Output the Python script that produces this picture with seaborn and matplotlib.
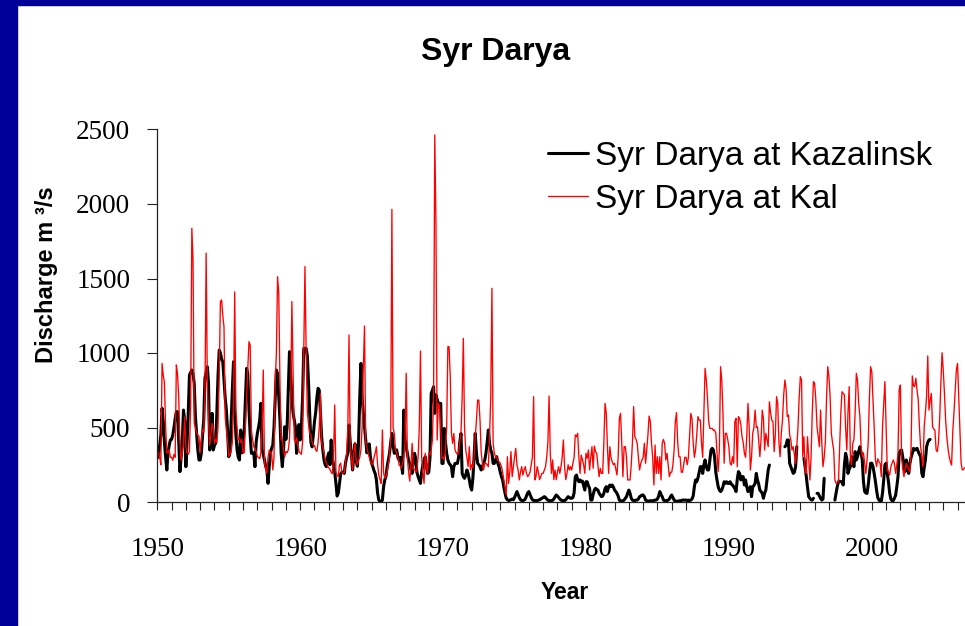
import numpy as np
import pandas as pd
import seaborn as sns
import matplotlib.pyplot as plt
from matplotlib.lines import Line2D
from matplotlib.patches import Rectangle

nan = np.nan

# Monthly discharge (m3/s), one row per year
# Syr Darya at Kazalinsk (black line), gaps in the 1990s record
kaz_1950s = [
    360, 300, 380, 450, 629, 540, 400, 300, 215, 330, 380, 416,    # 1950
    420, 450, 500, 560, 606, 606, 400, 204, 300, 416, 617, 540,    # 1951
    237, 400, 600, 852, 870, 886, 860, 796, 573, 460, 350, 282,    # 1952
    282, 330, 450, 550, 830, 870, 908, 800, 349, 450, 595, 349,    # 1953
    380, 394, 600, 850, 1020, 1000, 960, 942, 819, 700, 617, 483,  # 1954
    304, 330, 550, 750, 942, 617, 450, 349, 300, 282, 483, 330,    # 1955
    420, 483, 700, 897, 860, 617, 450, 327, 330, 330, 237, 400,    # 1956
    460, 500, 550, 662, 350, 320, 282, 240, 215, 125, 237, 330,    # 1957
    360, 382, 500, 700, 886, 860, 700, 550, 327, 237, 350, 505,    # 1958
    420, 500, 750, 1009, 860, 700, 600, 550, 505, 327, 450, 520,   # 1959
]
kaz_1960s = [
    416, 500, 700, 1031, 1031, 1031, 980, 800, 584, 400, 370, 450,  # 1960
    540, 600, 700, 763, 750, 600, 438, 350, 282, 250, 237, 300,     # 1961
    330, 250, 416, 300, 250, 200, 125, 40, 60, 125, 190, 200,       # 1962
    200, 192, 260, 300, 327, 517, 400, 327, 215, 300, 390, 280,     # 1963
    240, 400, 700, 930, 700, 595, 505, 420, 330, 350, 390, 300,     # 1964
    260, 237, 210, 190, 148, 60, 13, 5, 0, 13, 100, 148,            # 1965
    170, 237, 280, 327, 400, 460, 382, 327, 330, 350, 300, 282,     # 1966
    300, 250, 192, 617, 416, 370, 327, 280, 259, 215, 192, 280,     # 1967
    327, 293, 200, 170, 148, 125, 200, 250, 282, 304, 240, 192,     # 1968
    200, 300, 729, 750, 774, 595, 718, 690, 662, 662, 662, 259,     # 1969
]
kaz_1970s = [
    259, 494, 400, 327, 282, 260, 250, 237, 170, 237, 259, 259,  # 1970
    259, 300, 400, 460, 192, 170, 159, 180, 215, 192, 150, 103,  # 1971
    80, 159, 300, 460, 327, 259, 250, 237, 215, 237, 260, 282,   # 1972
    327, 400, 483, 394, 350, 327, 259, 259, 280, 304, 259, 237,  # 1973
    200, 170, 148, 100, 60, 25, 15, 10, 12, 15, 20, 15,          # 1974
    30, 50, 70, 50, 30, 15, 10, 10, 12, 20, 40, 60,              # 1975
    70, 50, 30, 15, 10, 10, 9, 10, 12, 15, 20, 25,               # 1976
    30, 36, 30, 20, 12, 10, 9, 9, 12, 20, 35, 47,                # 1977
    40, 30, 20, 13, 10, 9, 9, 15, 25, 36, 30, 25,                # 1978
    25, 30, 60, 170, 181, 150, 136, 148, 136, 140, 110, 80,      # 1979
]
kaz_1980s = [
    136, 136, 110, 92, 13, 13, 50, 80, 92, 85, 80, 60,           # 1980
    47, 36, 40, 58, 90, 103, 70, 100, 114, 103, 114, 100,        # 1981
    80, 70, 58, 40, 13, 9, 5, 9, 13, 25, 36, 60,                 # 1982
    80, 58, 25, 13, 9, 9, 13, 13, 20, 36, 40, 47,                # 1983
    47, 36, 13, 9, 5, 7, 9, 7, 9, 9, 13, 13,                     # 1984
    20, 40, 70, 50, 36, 13, 9, 9, 9, 13, 20, 36,                 # 1985
    47, 30, 13, 7, 5, 5, 7, 9, 9, 13, 13, 13,                    # 1986
    13, 9, 13, 9, 13, 20, 40, 103, 148, 136, 160, 200,           # 1987
    237, 237, 192, 250, 282, 237, 215, 215, 282, 349, 360, 349,  # 1988
    300, 200, 148, 103, 80, 70, 80, 103, 136, 125, 136, 125,     # 1989
]
kaz_1990s = [
    125, 136, 120, 114, 103, 90, 70, 150, 204, 192, 148, 170,    # 1990
    170, 114, 148, 103, 70, 80, 103, 36, 103, 110, 125, 192,     # 1991
    148, 120, 80, 70, 58, 25, 60, 80, 148, 215, 248, nan,        # 1992
    nan, nan, nan, nan, nan, nan, nan, nan, nan, nan, nan, 371,  # 1993
    380, 416, 416, 260, 237, 215, 192, 200, 237, 371, nan, nan,  # 1994
    nan, nan, nan, 293, 237, 170, 100, 36, 25, 15, 13, 25,       # 1995
    nan, nan, 58, 58, 40, 25, 13, 20, 159, nan, nan, nan,        # 1996
    nan, nan, nan, nan, nan, 13, 60, 103, 136, 140, 136, 136,    # 1997
    114, 250, 327, 293, 192, 220, 237, 304, 270, 237, 338, 282,  # 1998
    304, 340, 371, 330, 282, 136, 70, 60, 58, 114, 192, 260,     # 1999
]
kaz_2000s = [
    260, 237, 192, 140, 80, 30, 13, 7, 7, 60, 148, 248,          # 2000
    260, 192, 136, 60, 20, 9, 9, 25, 45, 103, 170, 327,          # 2001
    345, 349, 300, 250, 204, 282, 230, 192, 260, 300, 327, 360,  # 2002
    349, 355, 360, 338, 320, 304, 192, 170, 230, 282, 371, 400,  # 2003
    416, 420,                                                    # 2004
]

# Syr Darya at Kal (red line)
kal_1950s = [
    340, 330, 300, 250, 930, 850, 800, 500, 330, 330, 350, 300,        # 1950
    300, 280, 320, 300, 920, 860, 700, 400, 280, 330, 400, 570,        # 1951
    370, 330, 320, 340, 650, 1837, 1624, 530, 500, 460, 450, 440,      # 1952
    330, 420, 483, 470, 700, 1670, 800, 550, 380, 450, 528, 500,       # 1953
    394, 420, 400, 500, 864, 1345, 1356, 1250, 1177, 573, 480, 416,    # 1954
    304, 320, 340, 400, 662, 1410, 617, 500, 416, 430, 400, 420,       # 1955
    327, 330, 500, 707, 900, 1076, 1054, 483, 420, 371, 360, 340,      # 1956
    304, 300, 290, 330, 500, 886, 260, 230, 192, 300, 349, 330,        # 1957
    330, 215, 300, 796, 1000, 1512, 1400, 800, 416, 420, 350, 304,     # 1958
    340, 330, 350, 420, 700, 1345, 886, 420, 400, 430, 380, 340,       # 1959
]
kal_1960s = [
    330, 320, 400, 1020, 1580, 998, 600, 520, 460, 450, 400, 380,  # 1960
    380, 350, 340, 400, 500, 729, 400, 370, 330, 282, 260, 240,    # 1961
    230, 220, 200, 190, 300, 651, 200, 180, 170, 250, 260, 200,    # 1962
    190, 200, 260, 330, 500, 1121, 350, 300, 215, 330, 400, 280,   # 1963
    250, 280, 300, 350, 500, 900, 1181, 400, 371, 330, 300, 270,   # 1964
    260, 250, 300, 330, 371, 250, 180, 150, 125, 483, 200, 160,    # 1965
    170, 200, 250, 300, 450, 1964, 500, 460, 349, 330, 300, 250,   # 1966
    240, 230, 260, 300, 400, 864, 300, 200, 140, 250, 394, 220,    # 1967
    220, 200, 215, 300, 500, 1013, 300, 200, 125, 327, 250, 192,   # 1968
    330, 320, 350, 416, 700, 2463, 1870, 416, 662, 640, 500, 293,  # 1969
]
kal_1970s = [
    300, 282, 350, 500, 1042, 1042, 841, 460, 394, 460, 350, 330,  # 1970
    320, 330, 400, 460, 700, 1098, 500, 349, 300, 237, 371, 215,   # 1971
    250, 230, 300, 438, 550, 684, 684, 550, 330, 260, 215, 260,    # 1972
    260, 250, 237, 438, 700, 1434, 394, 330, 300, 304, 280, 270,   # 1973
    260, 237, 200, 150, 100, 47, 304, 125, 200, 338, 170, 237,     # 1974
    300, 360, 250, 215, 148, 200, 237, 180, 215, 237, 192, 170,    # 1975
    180, 200, 250, 300, 707, 148, 170, 237, 200, 150, 170, 192,    # 1976
    192, 215, 237, 300, 400, 711, 327, 192, 282, 150, 215, 150,    # 1977
    200, 237, 192, 237, 300, 416, 237, 150, 192, 250, 215, 237,    # 1978
    215, 260, 300, 450, 438, 461, 304, 192, 315, 282, 250, 192,    # 1979
]
kal_1980s = [
    327, 293, 349, 215, 300, 371, 226, 376, 338, 327, 250, 170,  # 1980
    226, 192, 192, 400, 662, 600, 371, 192, 371, 300, 270, 250,  # 1981
    260, 220, 181, 300, 561, 595, 400, 170, 371, 371, 300, 148,  # 1982
    148, 148, 250, 400, 640, 438, 420, 394, 300, 215, 260, 282,  # 1983
    300, 394, 260, 350, 450, 577, 540, 394, 300, 114, 382, 192,  # 1984
    304, 192, 304, 148, 394, 420, 394, 282, 327, 250, 170, 200,  # 1985
    200, 250, 350, 539, 600, 400, 304, 304, 200, 200, 250, 300,  # 1986
    300, 250, 300, 450, 595, 560, 400, 300, 350, 450, 573, 550,  # 1987
    550, 394, 300, 600, 897, 819, 700, 539, 494, 494, 494, 480,  # 1988
    483, 461, 330, 204, 350, 908, 820, 600, 260, 461, 461, 420,  # 1989
]
kal_1990s = [
    371, 260, 248, 304, 260, 539, 561, 237, 573, 560, 520, 440,  # 1990
    400, 327, 300, 440, 662, 505, 215, 300, 461, 500, 617, 500,  # 1991
    505, 416, 304, 420, 617, 560, 349, 461, 420, 371, 673, 600,  # 1992
    550, 539, 338, 450, 707, 662, 400, 304, 461, 550, 718, 819,  # 1993
    760, 573, 584, 450, 416, 349, 371, 320, 260, 371, 500, 700,  # 1994
    841, 819, 304, 438, 204, 192, 438, 300, 148, 300, 600, 808,  # 1995
    796, 685, 505, 440, 371, 617, 400, 237, 300, 400, 700, 908,  # 1996
    841, 707, 461, 400, 349, 148, 125, 130, 136, 371, 600, 740,  # 1997
    729, 718, 500, 349, 600, 774, 304, 248, 394, 420, 600, 863,  # 1998
    819, 662, 573, 371, 304, 330, 260, 192, 282, 400, 700, 908,  # 1999
]
kal_2000s = [
    874, 685, 500, 282, 237, 290, 270, 260, 170, 505, 650, 808,   # 2000
    505, 215, 200, 181, 237, 260, 282, 260, 192, 250, 327, 756,   # 2001
    785, 300, 220, 170, 220, 260, 237, 220, 204, 371, 846, 780,   # 2002
    774, 830, 750, 685, 505, 371, 300, 237, 505, 600, 707, 980,   # 2003
    617, 680, 729, 505, 490, 483, 349, 338, 400, 560, 800, 1002,  # 2004
    886, 729, 550, 438, 360, 304, 270, 248, 472, 600, 750, 886,   # 2005
    930, 700, 472, 260, 215, 220, 230,                            # 2006
]

first_year = 1950
kaz_label = 'Syr Darya at Kazalinsk'
kal_label = 'Syr Darya at Kal'
decade_labels = [1950, 1960, 1970, 1980, 1990, 2000]
y_ticks = [0, 500, 1000, 1500, 2000, 2500]


def monthly(values, start):
    q = np.asarray(values, dtype=float)
    return pd.DataFrame({'Year': start + np.arange(len(q)) / 12, 'Discharge': q})


kaz = monthly(kaz_1950s + kaz_1960s + kaz_1970s + kaz_1980s + kaz_1990s + kaz_2000s, first_year)
kal = monthly(kal_1950s + kal_1960s + kal_1970s + kal_1980s + kal_1990s + kal_2000s, first_year)

# missing months break the Kazalinsk line into separate pieces
kaz['Segment'] = kaz['Discharge'].isna().cumsum()
kaz = kaz.dropna()

sns.set_theme(style='ticks')
plt.rcParams['font.family'] = ['Liberation Sans', 'DejaVu Sans']
plt.rcParams['text.color'] = 'black'
plt.rcParams['axes.labelcolor'] = 'black'

W, H = 965, 626
fig = plt.figure(figsize=(W / 100, H / 100), dpi=100)
fig.patch.set_facecolor('white')

# blue slide frame on the left and top
fig.add_artist(Rectangle((0, 0), 17 / W, 1, transform=fig.transFigure, color='#000099', zorder=0))
fig.add_artist(Rectangle((0, 1 - 5 / H), 1, 5 / H, transform=fig.transFigure, color='#000099', zorder=0))

x0, x1 = 157.3, 965
y0, y1 = 502, 129.5
ax = fig.add_axes([x0 / W, 1 - y0 / H, (x1 - x0) / W, (y0 - y1) / H])
ax.set_facecolor('white')

sns.lineplot(data=kaz, x='Year', y='Discharge', units='Segment', estimator=None,
             color='black', linewidth=2.2, ax=ax)
sns.lineplot(data=kal, x='Year', y='Discharge', estimator=None,
             color='red', linewidth=0.95, ax=ax)

ax.set_xlim(1950, 1950 + (x1 - x0) / 14.29)
ax.set_ylim(0, 2500)
ax.set_xlabel('')
ax.set_ylabel('')

years = np.arange(1950, 2007)
ax.set_xticks(years, [str(y) if y in decade_labels else '' for y in years])
ax.set_yticks(y_ticks, [str(v) for v in y_ticks])
ax.tick_params(axis='x', direction='out', length=6, width=0.8, pad=19.5,
               labelsize=19.5, color='#222222', labelcolor='black')
ax.tick_params(axis='y', direction='out', length=7.5, width=0.8, pad=12,
               labelsize=19.5, color='#222222', labelcolor='black')
for lbl in ax.get_xticklabels() + ax.get_yticklabels():
    lbl.set_fontfamily('Liberation Serif')

sns.despine(ax=ax)
for side in ['left', 'bottom']:
    ax.spines[side].set_linewidth(0.9)
    ax.spines[side].set_color('#222222')

fig.text(496 / W, 1 - 60 / H, 'Syr Darya', ha='center', va='baseline',
         fontsize=23, fontweight='bold', color='black')
fig.text(47 / W, 1 - 275 / H, 'Discharge m ³/s', rotation=90, ha='center', va='center',
         fontsize=17, fontweight='bold', color='black')
fig.text(565 / W, 1 - 599 / H, 'Year', ha='center', va='baseline',
         fontsize=16.5, fontweight='bold', color='black')

handles = [Line2D([], [], color='black', lw=2.2), Line2D([], [], color='red', lw=0.95)]
leg = fig.legend(handles, [kaz_label, kal_label], loc='upper left',
                 bbox_to_anchor=(548 / W, 1 - 141 / H), frameon=False, fontsize=24,
                 handlelength=1.2, handletextpad=0.21, labelspacing=0.35,
                 borderpad=0, borderaxespad=0)
for t in leg.get_texts():
    t.set_color('black')

fig.savefig('out.png', dpi=100, facecolor='white')
